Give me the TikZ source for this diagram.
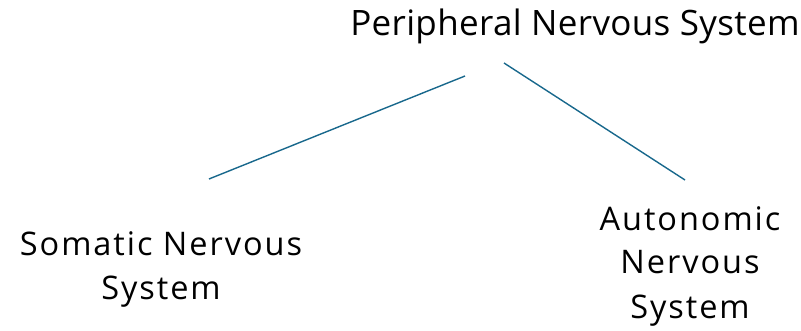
\documentclass[tikz,border=0pt]{standalone}
\usepackage{fontspec}
\setmainfont[LetterSpace=1]{Open Sans}
\newfontfamily\branchfont[LetterSpace=6]{Open Sans}
\usetikzlibrary{positioning}
\definecolor{linkteal}{RGB}{24,104,140}

\begin{document}
\begin{tikzpicture}[x=1pt, y=-1pt,
  title/.style={font=\fontsize{35}{40}\selectfont, inner sep=0pt},
  branch/.style={font=\branchfont\fontsize{32.5}{44}\selectfont, align=center, inner sep=0pt},
  link/.style={draw=linkteal, line width=1.4pt}
]
  \useasboundingbox (0,0) rectangle (801,331);
  \node[title, anchor=base] (pns) at (575,36) {Peripheral Nervous System};
  \node[branch, anchor=base] (somatic) at (161,300) {Somatic Nervous\\System};
  \node[branch, anchor=base] (autonomic) at (690,318) {Autonomic\\Nervous\\System};

  \coordinate (pnsL) at (465,76);
  \coordinate (pnsR) at (504,63);
  \coordinate (somaticT) at (209,179);
  \coordinate (autonomicT) at (685,180);

  \draw[link] (pnsL) -- (somaticT);
  \draw[link] (pnsR) -- (autonomicT);
\end{tikzpicture}
\end{document}
